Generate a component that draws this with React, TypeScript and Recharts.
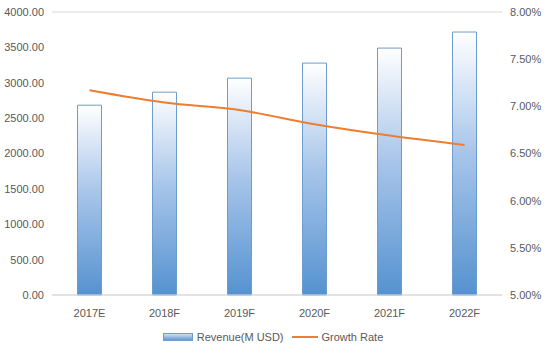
import {
  Bar,
  Line,
  XAxis,
  YAxis,
  CartesianGrid,
  Legend,
  ComposedChart,
} from "recharts";

const years = ["2017E", "2018F", "2019F", "2020F", "2021F", "2022F"];
const revenue = [2683, 2867, 3065, 3278, 3490, 3717];
const growthRate = [7.17, 7.04, 6.96, 6.81, 6.69, 6.59];

const leftTicks = [0, 500, 1000, 1500, 2000, 2500, 3000, 3500, 4000];
const rightTicks = [5, 5.5, 6, 6.5, 7, 7.5, 8];

const data = years.map((year, i) => ({
  year,
  revenue: revenue[i],
  growth: growthRate[i],
}));

const font = "Liberation Sans, Arial, sans-serif";
const tickStyle = { fontSize: 11, fill: "#595959", fontFamily: font };

function ChartLegend() {
  return (
    <div
      style={{
        display: "flex",
        justifyContent: "center",
        alignItems: "center",
        fontFamily: font,
        fontSize: 11,
        color: "#595959",
        gap: 4,
        paddingTop: 12,
      }}
    >
      <svg width={30} height={8}>
        <defs>
          <linearGradient id="legendGrad" x1="0" y1="0" x2="0" y2="1">
            <stop offset="0%" stopColor="#d6e4f5" />
            <stop offset="100%" stopColor="#5b93d0" />
          </linearGradient>
        </defs>
        <rect x={0.5} y={0.5} width={29} height={7} fill="url(#legendGrad)" stroke="#6e9ccc" />
      </svg>
      <span style={{ marginRight: 4 }}>Revenue(M USD)</span>
      <svg width={26} height={8}>
        <line x1={0} y1={4} x2={26} y2={4} stroke="#ED7D31" strokeWidth={2} />
      </svg>
      <span>Growth Rate</span>
    </div>
  );
}

export default function App() {
  return (
    <div style={{ position: "absolute", left: 0, top: 0, background: "#fff" }}>
      <ComposedChart
        width={546}
        height={356}
        data={data}
        margin={{ top: 12, right: 0, bottom: 5, left: 0 }}
        barCategoryGap="34%"
      >
        <defs>
          <linearGradient id="barGrad" x1="0" y1="0" x2="0" y2="1">
            <stop offset="0%" stopColor="#ffffff" />
            <stop offset="45%" stopColor="#a9c6ea" />
            <stop offset="100%" stopColor="#5592d0" />
          </linearGradient>
        </defs>
        <CartesianGrid vertical={false} stroke="#d9d9d9" />
        <XAxis
          dataKey="year"
          axisLine={{ stroke: "#d9d9d9" }}
          tickLine={false}
          tick={tickStyle}
          tickMargin={8}
          height={24}
        />
        <YAxis
          yAxisId="left"
          domain={[0, 4000]}
          ticks={leftTicks}
          tickFormatter={(v: number) => v.toFixed(2)}
          axisLine={false}
          tickLine={false}
          tickSize={0}
          tickMargin={8}
          tick={tickStyle}
          width={52}
        />
        <YAxis
          yAxisId="right"
          orientation="right"
          domain={[5, 8]}
          ticks={rightTicks}
          tickFormatter={(v: number) => v.toFixed(2) + "%"}
          axisLine={false}
          tickLine={false}
          tickSize={0}
          tickMargin={8}
          tick={tickStyle}
          width={44}
        />
        <Legend verticalAlign="bottom" height={32} content={() => <ChartLegend />} />
        <Bar
          yAxisId="left"
          dataKey="revenue"
          name="Revenue(M USD)"
          fill="url(#barGrad)"
          stroke="#6e9ccc"
          strokeWidth={1}
          isAnimationActive={false}
        />
        <Line
          yAxisId="right"
          type="monotone"
          dataKey="growth"
          name="Growth Rate"
          stroke="#ED7D31"
          strokeWidth={2}
          dot={false}
          isAnimationActive={false}
        />
      </ComposedChart>
    </div>
  );
}
